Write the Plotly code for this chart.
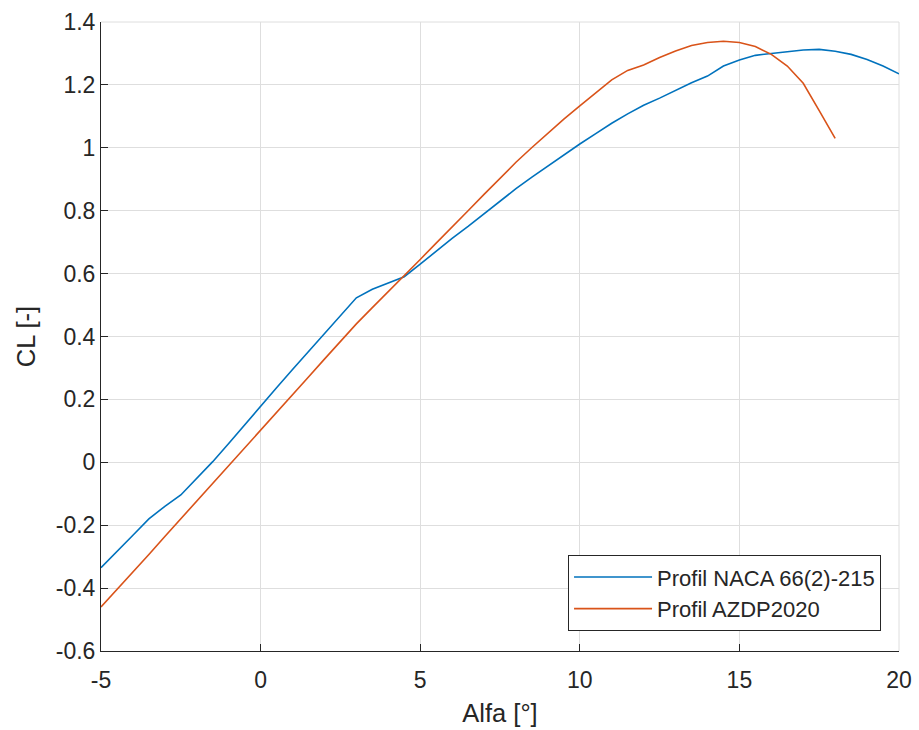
import plotly.graph_objects as go

# Lift coefficient vs. angle of attack for two airfoil profiles
alfa_naca = [-5, -4.5, -4, -3.5, -3, -2.5, -2, -1.5, -1, -0.5, 0, 0.5, 1, 1.5, 2, 2.5, 3,
             3.5, 4, 4.5, 5, 5.5, 6, 6.5, 7, 7.5, 8, 8.5, 9, 9.5, 10, 10.5, 11, 11.5, 12,
             12.5, 13, 13.5, 14, 14.5, 15, 15.5, 16, 16.5, 17, 17.5, 18, 18.5, 19, 19.5, 20]
cl_naca = [-0.335, -0.285, -0.232, -0.18, -0.14, -0.104, -0.05, 0.002, 0.06, 0.12, 0.179,
           0.237, 0.295, 0.352, 0.41, 0.466, 0.523, 0.55, 0.57, 0.59, 0.63, 0.672, 0.712,
           0.75, 0.79, 0.832, 0.87, 0.907, 0.942, 0.978, 1.012, 1.045, 1.078, 1.108, 1.135,
           1.158, 1.183, 1.207, 1.228, 1.26, 1.279, 1.294, 1.300, 1.305, 1.311, 1.313, 1.307,
           1.297, 1.281, 1.26, 1.235]

alfa_azdp = [-5, -4.5, -4, -3.5, -3, -2.5, -2, -1.5, -1, -0.5, 0, 0.5, 1, 1.5, 2, 2.5, 3,
             3.5, 4, 4.5, 5, 5.5, 6, 6.5, 7, 7.5, 8, 8.5, 9, 9.5, 10, 10.5, 11, 11.5, 12,
             12.5, 13, 13.5, 14, 14.5, 15, 15.5, 16, 16.5, 17, 17.5, 18]
cl_azdp = [-0.46, -0.405, -0.35, -0.293, -0.236, -0.18, -0.123, -0.066, -0.01, 0.045, 0.1,
           0.157, 0.214, 0.271, 0.328, 0.385, 0.44, 0.492, 0.542, 0.593, 0.645, 0.697, 0.75,
           0.8, 0.852, 0.904, 0.954, 1.001, 1.047, 1.091, 1.133, 1.175, 1.216, 1.246, 1.263,
           1.287, 1.308, 1.325, 1.335, 1.339, 1.335, 1.322, 1.297, 1.26, 1.205, 1.118, 1.03]

x_ticks = [-5, 0, 5, 10, 15, 20]
x_ticktext = ["-5", "0", "5", "10", "15", "20"]
y_ticks = [-0.6, -0.4, -0.2, 0, 0.2, 0.4, 0.6, 0.8, 1, 1.2, 1.4]
y_ticktext = ["-0.6", "-0.4", "-0.2", "0", "0.2", "0.4", "0.6", "0.8", "1", "1.2", "1.4"]

ink = "#262626"
grid = "#dedede"
font_family = "Liberation Sans, Arial, sans-serif"

fig = go.Figure()
fig.add_trace(go.Scatter(x=alfa_naca, y=cl_naca, mode="lines",
                         name="Profil NACA 66(2)-215",
                         line=dict(color="#0072BD", width=1.6)))
fig.add_trace(go.Scatter(x=alfa_azdp, y=cl_azdp, mode="lines",
                         name="Profil AZDP2020",
                         line=dict(color="#D95319", width=1.6)))

axis_common = dict(
    showgrid=True, gridcolor=grid, gridwidth=1, zeroline=False,
    showline=True, linecolor=ink, linewidth=1,
    ticks="inside", ticklen=7, tickcolor=ink, tickwidth=1,
    tickfont=dict(family=font_family, size=23, color=ink),
    mirror=False, automargin=False,
)

fig.update_xaxes(range=[-5, 20], tickmode="array", tickvals=x_ticks, ticktext=x_ticktext,
                 ticklabelstandoff=8,
                 title=dict(text="Alfa [°]", font=dict(family=font_family, size=25.5, color=ink),
                            standoff=12),
                 **axis_common)
fig.update_yaxes(range=[-0.6, 1.4], tickmode="array", tickvals=y_ticks, ticktext=y_ticktext,
                 ticklabelstandoff=0,
                 title=dict(text="CL [-]", font=dict(family=font_family, size=25.5, color=ink),
                            standoff=12),
                 **axis_common)

# Grid lines along the top and right edges of the plotting area
fig.add_shape(type="line", xref="paper", yref="paper", x0=0, x1=1, y0=1, y1=1,
              line=dict(color=grid, width=1), layer="below")
fig.add_shape(type="line", xref="paper", yref="paper", x0=1, x1=1, y0=0, y1=1,
              line=dict(color=grid, width=1), layer="below")

fig.update_layout(
    width=919, height=730,
    margin=dict(l=101, r=20, t=22, b=79, autoexpand=False),
    paper_bgcolor="white", plot_bgcolor="white",
    font=dict(family=font_family, size=22, color=ink),
    showlegend=True,
    legend=dict(
        x=0.9775, y=0.0315, xanchor="right", yanchor="bottom",
        bgcolor="white", bordercolor=ink, borderwidth=1,
        font=dict(family=font_family, size=22, color=ink),
        itemwidth=78, tracegroupgap=0,
    ),
)

fig.write_html("out.html")
